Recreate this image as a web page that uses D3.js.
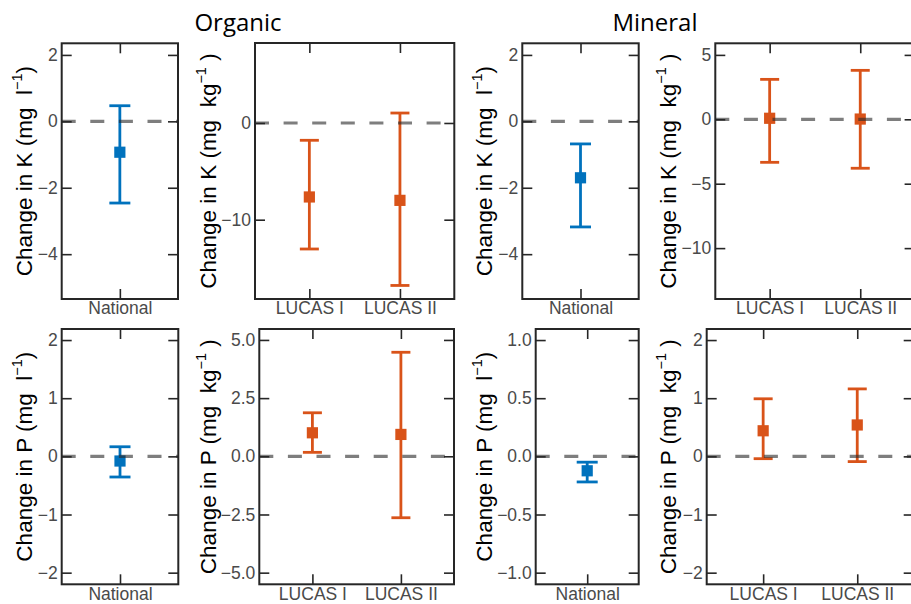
<!DOCTYPE html>
<meta charset="utf-8">
<html>
<head>
  <script src="https://d3js.org/d3.v7.min.js"></script>
  <style>
    body { margin: 0; background: #fff; }
    svg text { white-space: pre; }
  </style>
</head>
<body>
  <svg id="chart"></svg>
  <script type="text/javascript">
    // ---- data ----
    const nationalCats = ["National"]
    const lucasCats = ["LUCAS I", "LUCAS II"]

    // K, organic soils
    const kOrgNatMean = [-0.93]
    const kOrgNatLow = [-2.46]
    const kOrgNatHigh = [0.47]
    const kOrgLucasMean = [-7.65, -8.0]
    const kOrgLucasLow = [-13.03, -16.8]
    const kOrgLucasHigh = [-1.79, 1.03]

    // K, mineral soils
    const kMinNatMean = [-1.70]
    const kMinNatLow = [-3.18]
    const kMinNatHigh = [-0.68]
    const kMinLucasMean = [0.08, 0.02]
    const kMinLucasLow = [-3.34, -3.8]
    const kMinLucasHigh = [3.1, 3.8]

    // P, organic soils
    const pOrgNatMean = [-0.08]
    const pOrgNatLow = [-0.355]
    const pOrgNatHigh = [0.165]
    const pOrgLucasMean = [1.01, 0.94]
    const pOrgLucasLow = [0.17, -2.64]
    const pOrgLucasHigh = [1.87, 4.47]

    // P, mineral soils
    const pMinNatMean = [-0.124]
    const pMinNatLow = [-0.22]
    const pMinNatHigh = [-0.05]
    const pMinLucasMean = [0.44, 0.54]
    const pMinLucasLow = [-0.04, -0.09]
    const pMinLucasHigh = [0.99, 1.16]

    // axis limits and ticks
    const limKNat = [-5.35, 2.35]
    const ticksKNat = [2, 0, -2, -4]
    const limKOrgLucas = [-18.2, 8.27]
    const ticksKOrgLucas = [0, -10]
    const limKMinLucas = [-13.95, 5.9]
    const ticksKMinLucas = [5, 0, -5, -10]
    const limPNat = [-2.2, 2.19]
    const ticksPNat = [2, 1, 0, -1, -2]
    const limPOrgLucas = [-5.5, 5.47]
    const ticksPOrgLucas = [5, 2.5, 0, -2.5, -5]
    const limPMinNat = [-1.1, 1.095]
    const ticksPMinNat = [1, 0.5, 0, -0.5, -1]
    const limPMinLucas = [-2.2, 2.19]
    const ticksPMinLucas = [2, 1, 0, -1, -2]

    const titles = ["Organic", "Mineral"]

    const blue = "#0072bd"
    const orange = "#d95319"

    const width = 911
    const height = 604
    const svg = d3.select("#chart").attr("width", width).attr("height", height)

    // panel boxes (x0, x1, y0, y1) and y-label baseline x
    const panels = [
      { box: [61.7, 178, 43.3, 299], labX: 32, el: "K", unit: "l", cats: nationalCats,
        lim: limKNat, ticks: ticksKNat, fmt: d3.format("d"), color: blue, cap: 21,
        mean: kOrgNatMean, lo: kOrgNatLow, hi: kOrgNatHigh },
      { box: [255, 454.3, 43, 299], labX: 216, el: "K", unit: "kg", cats: lucasCats,
        lim: limKOrgLucas, ticks: ticksKOrgLucas, fmt: d3.format("d"), color: orange, cap: 19,
        mean: kOrgLucasMean, lo: kOrgLucasLow, hi: kOrgLucasHigh },
      { box: [522.3, 638.7, 43.3, 299], labX: 492, el: "K", unit: "l", cats: nationalCats,
        lim: limKNat, ticks: ticksKNat, fmt: d3.format("d"), color: blue, cap: 21,
        mean: kMinNatMean, lo: kMinNatLow, hi: kMinNatHigh },
      { box: [715.3, 914.6, 43.3, 299], labX: 676, el: "K", unit: "kg", cats: lucasCats,
        lim: limKMinLucas, ticks: ticksKMinLucas, fmt: d3.format("d"), color: orange, cap: 19,
        mean: kMinLucasMean, lo: kMinLucasLow, hi: kMinLucasHigh },
      { box: [61.7, 178.3, 329, 584.3], labX: 32, el: "P", unit: "l", cats: nationalCats,
        lim: limPNat, ticks: ticksPNat, fmt: d3.format("d"), color: blue, cap: 21,
        mean: pOrgNatMean, lo: pOrgNatLow, hi: pOrgNatHigh },
      { box: [259.3, 454, 329, 584.3], labX: 216, el: "P", unit: "kg", cats: lucasCats,
        lim: limPOrgLucas, ticks: ticksPOrgLucas, fmt: d3.format(".1f"), color: orange, cap: 19,
        mean: pOrgLucasMean, lo: pOrgLucasLow, hi: pOrgLucasHigh },
      { box: [535.7, 638.7, 329, 584.3], labX: 492, el: "P", unit: "l", cats: nationalCats,
        lim: limPMinNat, ticks: ticksPMinNat, fmt: d3.format(".1f"), color: blue, cap: 21,
        mean: pMinNatMean, lo: pMinNatLow, hi: pMinNatHigh },
      { box: [706.7, 913.7, 329, 584.3], labX: 676, el: "P", unit: "kg", cats: lucasCats,
        lim: limPMinLucas, ticks: ticksPMinLucas, fmt: d3.format("d"), color: orange, cap: 19,
        mean: pMinLucasMean, lo: pMinLucasLow, hi: pMinLucasHigh }
    ]

    // minus sign instead of hyphen
    function fixMinus(f) {
      return function (d) { return f(d).replace("-", "\u2212") }
    }

    function drawPanel(p) {
      const [x0, x1, y0, y1] = p.box
      const g = svg.append("g")

      const x = d3.scalePoint().domain(p.cats).range([x0, x1]).padding(0.6)
      const y = d3.scaleLinear().domain(p.lim).range([y1, y0])

      // axes, ticks pointing inward
      const left = g.append("g").attr("transform", "translate(" + x0 + ",0)")
        .call(d3.axisLeft(y).tickValues(p.ticks).tickFormat(fixMinus(p.fmt))
          .tickSizeInner(-10).tickSizeOuter(0).tickPadding(4))
      const right = g.append("g").attr("transform", "translate(" + x1 + ",0)")
        .call(d3.axisRight(y).tickValues(p.ticks).tickFormat("")
          .tickSizeInner(-10).tickSizeOuter(0))
      const top = g.append("g").attr("transform", "translate(0," + y0 + ")")
        .call(d3.axisTop(x).tickFormat("").tickSizeInner(-10).tickSizeOuter(0))
      const bottom = g.append("g").attr("transform", "translate(0," + y1 + ")")
        .call(d3.axisBottom(x).tickSizeInner(-10).tickSizeOuter(0).tickPadding(3))

      ;[left, right, top, bottom].forEach(a => {
        a.select(".domain").remove()
        a.selectAll("line").attr("stroke", "#262626").attr("stroke-width", 1.6)
        a.selectAll("text")
          .attr("fill", "#4a4a4a")
          .attr("font-family", "'Liberation Sans', Arial, sans-serif")
          .attr("font-size", 17.5)
      })

      // error bars
      const half = p.cap / 2
      const bars = g.append("g").selectAll("g")
        .data(p.cats.map((c, i) => ({ c: c, m: p.mean[i], lo: p.lo[i], hi: p.hi[i] })))
        .join("g")
      bars.append("line")
        .attr("x1", d => x(d.c)).attr("x2", d => x(d.c))
        .attr("y1", d => y(d.lo)).attr("y2", d => y(d.hi))
        .attr("stroke", p.color).attr("stroke-width", 2.8)
      bars.append("line")
        .attr("x1", d => x(d.c) - half).attr("x2", d => x(d.c) + half)
        .attr("y1", d => y(d.lo)).attr("y2", d => y(d.lo))
        .attr("stroke", p.color).attr("stroke-width", 2.8)
      bars.append("line")
        .attr("x1", d => x(d.c) - half).attr("x2", d => x(d.c) + half)
        .attr("y1", d => y(d.hi)).attr("y2", d => y(d.hi))
        .attr("stroke", p.color).attr("stroke-width", 2.8)
      bars.append("rect")
        .attr("x", d => x(d.c) - 5.6).attr("y", d => y(d.m) - 5.6)
        .attr("width", 11.2).attr("height", 11.2)
        .attr("fill", p.color)

      // zero reference line, drawn over the bars
      g.append("line")
        .attr("x1", x0).attr("x2", x1)
        .attr("y1", y(0)).attr("y2", y(0))
        .attr("stroke", "rgba(40,40,40,0.6)")
        .attr("stroke-width", 3.2)
        .attr("stroke-dasharray", "14,14.6")

      // frame
      g.append("rect")
        .attr("x", x0).attr("y", y0)
        .attr("width", x1 - x0).attr("height", y1 - y0)
        .attr("fill", "none").attr("stroke", "#262626").attr("stroke-width", 2)

      // y label
      const yc = (y0 + y1) / 2
      const lab = g.append("text")
        .attr("transform", "translate(" + p.labX + "," + yc + ") rotate(-90)")
        .attr("text-anchor", "middle")
        .attr("font-family", "'Liberation Sans', Arial, sans-serif")
        .attr("font-size", 22.5)
        .attr("fill", "#000")
      lab.append("tspan").text("Change in " + p.el + " (mg  " + p.unit)
      lab.append("tspan").attr("font-size", 14.5).attr("dy", -10).text("\u22121")
      lab.append("tspan").attr("dy", 10).text(p.unit === "kg" ? " )" : ")")
    }

    panels.forEach(drawPanel)

    // column titles
    svg.selectAll(".title")
      .data(titles)
      .join("text")
      .attr("class", "title")
      .attr("x", (d, i) => i === 0 ? 238 : 655)
      .attr("y", 30.5)
      .attr("text-anchor", "middle")
      .attr("font-family", "'Open Sans', sans-serif")
      .attr("font-size", 24)
      .attr("fill", "#000")
      .text(d => d)
  </script>
</body>
</html>
